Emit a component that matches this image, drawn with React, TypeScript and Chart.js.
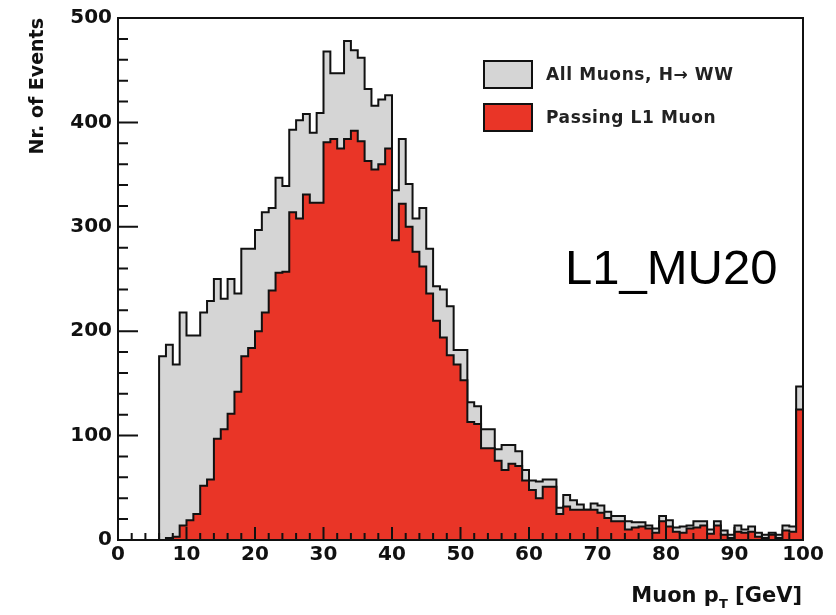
import React, { useEffect, useRef } from 'react';
import { Chart, registerables } from 'chart.js';

Chart.register(...registerables);

// Histogram contents, 1 GeV bins from 0 to 100 GeV (bin i covers [i, i+1))
const allMuons = [
  0, 0, 0, 0, 0, 0, 176, 187, 168, 218,
  196, 196, 218, 229, 250, 231, 250, 236, 279, 279,
  297, 314, 318, 347, 339, 393, 402, 408, 390, 409,
  468, 447, 447, 478, 469, 462, 432, 416, 422, 426,
  335, 384, 341, 308, 318, 279, 243, 240, 224, 182,
  182, 132, 128, 106, 106, 87, 91, 91, 85, 67,
  57, 56, 58, 58, 31, 43, 38, 34, 29, 35,
  33, 27, 23, 23, 18, 17, 17, 14, 11, 23,
  19, 12, 13, 14, 18, 18, 10, 18, 9, 5,
  14, 10, 13, 7, 5, 7, 5, 14, 13, 147,
];

const passingL1 = [
  0, 0, 0, 0, 0, 0, 0, 2, 3, 14,
  19, 25, 52, 58, 97, 106, 121, 142, 176, 184,
  200, 218, 239, 256, 257, 314, 308, 331, 323, 323,
  381, 384, 375, 384, 392, 382, 363, 355, 360, 375,
  287, 322, 300, 276, 262, 236, 210, 194, 177, 168,
  153, 113, 111, 88, 88, 76, 67, 73, 71, 57,
  48, 40, 51, 51, 25, 32, 29, 29, 29, 29,
  26, 21, 18, 18, 10, 12, 13, 11, 7, 18,
  13, 8, 7, 11, 12, 14, 6, 14, 5, 2,
  8, 7, 8, 3, 2, 5, 2, 9, 8, 125,
];

const seriesLabels = ['All Muons, H\u2192 WW', 'Passing L1 Muon'];
const xRange = [0, 100];
const yRange = [0, 500];
const xTickSteps = [10, 2]; // major, minor
const yTickSteps = [100, 20]; // major, minor

const GRAY = '#d5d5d5';
const RED = '#e93527';
const INK = '#111111';
const TICK_FONT = { family: "'DejaVu Sans', sans-serif", size: 20, weight: 'bold' as const };

const toPoints = (arr: number[]) =>
  arr.map((v, i) => ({ x: xRange[0] + i, y: v })).concat([{ x: xRange[0] + arr.length, y: 0 }]);

const frameTicks = {
  id: 'frameTicks',
  afterDatasetsDraw(chart: any) {
    const { ctx, chartArea: a, scales } = chart;
    const x = scales.x;
    const y = scales.y;
    ctx.save();
    ctx.strokeStyle = INK;
    ctx.lineWidth = 2;
    ctx.beginPath();
    for (let v = yRange[0]; v <= yRange[1]; v += yTickSteps[1]) {
      const py = y.getPixelForValue(v);
      const len = v % yTickSteps[0] === 0 ? 20 : 10;
      ctx.moveTo(a.left, py);
      ctx.lineTo(a.left + len, py);
    }
    for (let v = xRange[0]; v <= xRange[1]; v += xTickSteps[1]) {
      const px = x.getPixelForValue(v);
      const len = v % xTickSteps[0] === 0 ? 13 : 7;
      ctx.moveTo(px, a.bottom);
      ctx.lineTo(px, a.bottom - len);
    }
    ctx.stroke();
    ctx.strokeRect(a.left, a.top, a.right - a.left, a.bottom - a.top);
    ctx.restore();
  },
};

function HistChart() {
  const ref = useRef<HTMLCanvasElement | null>(null);
  useEffect(() => {
    if (!ref.current) return;
    const chart = new Chart(ref.current, {
      type: 'line',
      data: {
        datasets: [
          {
            label: seriesLabels[1],
            data: toPoints(passingL1),
            stepped: 'before',
            fill: 'origin',
            backgroundColor: RED,
            borderColor: INK,
            borderWidth: 2,
            pointRadius: 0,
            order: 0,
          },
          {
            label: seriesLabels[0],
            data: toPoints(allMuons),
            stepped: 'before',
            fill: 'origin',
            backgroundColor: GRAY,
            borderColor: INK,
            borderWidth: 2,
            pointRadius: 0,
            order: 1,
          },
        ],
      },
      options: {
        animation: false,
        responsive: false,
        devicePixelRatio: 1,
        layout: { padding: { top: 12, right: 33, left: 0, bottom: 0 } },
        plugins: { legend: { display: false }, tooltip: { enabled: false } },
        scales: {
          x: {
            type: 'linear',
            min: xRange[0],
            max: xRange[1],
            grid: { display: false, drawTicks: false },
            border: { display: false },
            ticks: { stepSize: xTickSteps[0], font: TICK_FONT, color: INK, padding: 3, maxRotation: 0, autoSkip: false },
            afterFit: (s: any) => { s.height = 75; },
          },
          y: {
            type: 'linear',
            min: yRange[0],
            max: yRange[1],
            grid: { display: false, drawTicks: false },
            border: { display: false },
            ticks: { stepSize: yTickSteps[0], font: TICK_FONT, color: INK, padding: 6 },
            title: {
              display: true,
              text: 'Nr. of Events',
              align: 'end',
              color: INK,
              font: { family: "'DejaVu Sans', sans-serif", size: 19, weight: 'bold' },
              padding: { top: 27, bottom: 0 },
            },
            afterFit: (s: any) => { s.width = 118; },
          },
        },
      },
      plugins: [frameTicks],
    } as any);
    return () => chart.destroy();
  }, []);
  return <canvas ref={ref} width={836} height={615} style={{ display: 'block' }} />;
}

const legendBox = (top: number, color: string): React.CSSProperties => ({
  position: 'absolute',
  left: 483,
  top,
  width: 46,
  height: 25,
  background: color,
  border: `2px solid ${INK}`,
});

const legendText = (top: number): React.CSSProperties => ({
  position: 'absolute',
  left: 546,
  top,
  height: 29,
  lineHeight: '29px',
  fontFamily: "'DejaVu Sans', sans-serif",
  fontWeight: 'bold',
  fontSize: 17,
  letterSpacing: 0.6,
  color: '#222',
  whiteSpace: 'nowrap',
});

export default function App() {
  return (
    <div style={{ position: 'absolute', left: 0, top: 0, width: 836, height: 615, background: '#fff', overflow: 'hidden' }}>
      <HistChart />
      <div style={legendBox(60, GRAY)} />
      <div style={legendText(60)}>{seriesLabels[0]}</div>
      <div style={legendBox(103, RED)} />
      <div style={legendText(103)}>{seriesLabels[1]}</div>
      <div
        style={{
          position: 'absolute',
          left: 565,
          top: 243,
          fontFamily: "'Liberation Sans', Arial, sans-serif",
          fontSize: 49,
          lineHeight: '49px',
          color: '#000',
          whiteSpace: 'nowrap',
        }}
      >
        L1_MU20
      </div>
      <div
        style={{
          position: 'absolute',
          right: 34,
          top: 583,
          fontFamily: "'DejaVu Sans', sans-serif",
          fontWeight: 'bold',
          fontSize: 21,
          lineHeight: '24px',
          color: INK,
          whiteSpace: 'nowrap',
        }}
      >
        Muon p<sub style={{ fontSize: 13, verticalAlign: -6 }}>T</sub> [GeV]
      </div>
    </div>
  );
}
